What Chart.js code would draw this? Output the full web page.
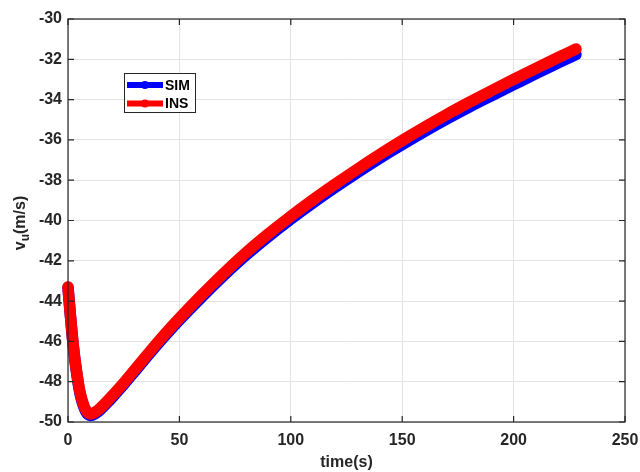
<!DOCTYPE html>
<html>
<head>
<meta charset="UTF-8">
<title>v_u SIM vs INS</title>
<script src="https://cdn.jsdelivr.net/npm/chart.js"></script>
<style>
body{
  margin:0;
  background:white;
}
#wrap{
  width:640px;
  height:472px;
}
</style>
</head>
<body>

<div id="wrap">
<canvas id="chart" width="640" height="472"></canvas>
</div>

<script>
// values
const times = [0,1,2,3,4,5,6,7,8,9,10,11,12,14,16,18,20,25,30,35,40,45,50,60,70,80,90,100,110,120,130,140,150,160,170,180,190,200,210,220,228];
const ins   = [-43.3,-44.6,-45.8,-46.8,-47.6,-48.3,-48.8,-49.15,-49.4,-49.55,-49.6,-49.58,-49.52,-49.36,-49.15,-48.92,-48.68,-48.06,-47.4,-46.74,-46.08,-45.45,-44.85,-43.7,-42.61,-41.59,-40.66,-39.79,-38.97,-38.19,-37.44,-36.72,-36.03,-35.37,-34.74,-34.14,-33.56,-33.0,-32.45,-31.91,-31.49];
const sim   = [-43.33,-44.63,-45.84,-46.85,-47.66,-48.36,-48.87,-49.22,-49.48,-49.63,-49.68,-49.66,-49.6,-49.44,-49.23,-49.0,-48.76,-48.14,-47.48,-46.82,-46.17,-45.54,-44.94,-43.8,-42.72,-41.71,-40.79,-39.93,-39.12,-38.35,-37.61,-36.9,-36.23,-35.58,-34.96,-34.37,-33.81,-33.26,-32.71,-32.18,-31.76];
const xTicks = [0,50,100,150,200,250];
const yTicks = [-50,-48,-46,-44,-42,-40,-38,-36,-34,-32,-30];

const axisColor = '#262626';
const tickFont = {family:'Liberation Sans, Arial, sans-serif', size:16, weight:'bold'};

function pts(arr){
  return times.map((t,i)=>({x:t,y:arr[i]}));
}

// box, inward ticks, legend and y label drawn by hand (MATLAB look)
const matlabLook = {
  id:'matlabLook',
  afterDraw(chart){
    const ctx = chart.ctx;
    const a = chart.chartArea;
    const xs = chart.scales.x, ys = chart.scales.y;
    ctx.save();
    ctx.strokeStyle = axisColor;
    ctx.lineWidth = 1.2;
    ctx.strokeRect(a.left, a.top, a.right-a.left, a.bottom-a.top);
    ctx.beginPath();
    xTicks.forEach(v=>{
      let p = xs.getPixelForValue(v);
      ctx.moveTo(p,a.bottom); ctx.lineTo(p,a.bottom-6);
      ctx.moveTo(p,a.top); ctx.lineTo(p,a.top+6);
    });
    yTicks.forEach(v=>{
      let p = ys.getPixelForValue(v);
      ctx.moveTo(a.left,p); ctx.lineTo(a.left+6,p);
      ctx.moveTo(a.right,p); ctx.lineTo(a.right-6,p);
    });
    ctx.stroke();

    // legend
    ctx.fillStyle = 'white';
    ctx.fillRect(124.5,73.5,71,39);
    ctx.strokeStyle = axisColor;
    ctx.lineWidth = 1;
    ctx.strokeRect(124.5,73.5,71,39);
    const rows = [chart.data.datasets[1], chart.data.datasets[0]];
    rows.forEach((ds,i)=>{
      let y = 85 + i*18.5;
      ctx.strokeStyle = ds.borderColor;
      ctx.lineWidth = 6;
      ctx.lineCap = 'butt';
      ctx.beginPath();
      ctx.moveTo(127,y); ctx.lineTo(163,y);
      ctx.stroke();
      ctx.fillStyle = ds.borderColor;
      ctx.beginPath();
      ctx.arc(145,y,4,0,Math.PI*2);
      ctx.fill();
      ctx.fillStyle = '#000';
      ctx.font = 'bold 14px Liberation Sans, Arial, sans-serif';
      ctx.textBaseline = 'middle';
      ctx.textAlign = 'left';
      ctx.fillText(ds.label,165,y+1);
    });

    // y axis title with subscript
    ctx.translate(21,223);
    ctx.rotate(-Math.PI/2);
    ctx.fillStyle = axisColor;
    ctx.textBaseline = 'middle';
    ctx.textAlign = 'left';
    ctx.font = 'bold 16px Liberation Sans, Arial, sans-serif';
    let w1 = ctx.measureText('v').width;
    ctx.font = 'bold 12px Liberation Sans, Arial, sans-serif';
    let w2 = ctx.measureText('u').width;
    ctx.font = 'bold 16px Liberation Sans, Arial, sans-serif';
    let w3 = ctx.measureText('(m/s)').width;
    let x0 = -(w1+w2+w3)/2;
    ctx.fillText('v',x0,0);
    ctx.font = 'bold 12px Liberation Sans, Arial, sans-serif';
    ctx.fillText('u',x0+w1,5);
    ctx.font = 'bold 16px Liberation Sans, Arial, sans-serif';
    ctx.fillText('(m/s)',x0+w1+w2,0);
    ctx.restore();
  }
};

new Chart(document.getElementById('chart'),{
  type:'line',
  data:{
    datasets:[
      {label:'INS',data:pts(ins),borderColor:'#ff0000',backgroundColor:'#ff0000',order:1},
      {label:'SIM',data:pts(sim),borderColor:'#0000ff',backgroundColor:'#0000ff',order:2}
    ]
  },
  options:{
    responsive:false,
    animation:false,
    layout:{padding:{top:19,right:15,left:0,bottom:0}},
    elements:{
      point:{radius:0},
      line:{borderWidth:11.5,borderCapStyle:'round',borderJoinStyle:'round',cubicInterpolationMode:'monotone'}
    },
    datasets:{line:{clip:10}},
    plugins:{legend:{display:false},tooltip:{enabled:false}},
    scales:{
      x:{
        type:'linear',min:0,max:250,
        afterBuildTicks(s){ s.ticks = xTicks.map(v=>({value:v})); },
        afterFit(s){ s.height = 50; s.paddingLeft = 0; s.paddingRight = 0; },
        grid:{color:'#e3e3e3',drawTicks:false},
        border:{display:false},
        ticks:{font:tickFont,color:axisColor,padding:9},
        title:{display:true,text:'time(s)',font:tickFont,color:axisColor,padding:{top:2,bottom:0}}
      },
      y:{
        type:'linear',min:-50,max:-30,
        afterBuildTicks(s){ s.ticks = yTicks.map(v=>({value:v})); },
        afterFit(s){ s.width = 68; s.paddingTop = 0; s.paddingBottom = 0; },
        grid:{color:'#e3e3e3',drawTicks:false},
        border:{display:false},
        ticks:{font:tickFont,color:axisColor,padding:6}
      }
    }
  },
  plugins:[matlabLook]
});
</script>

</body>
</html>
